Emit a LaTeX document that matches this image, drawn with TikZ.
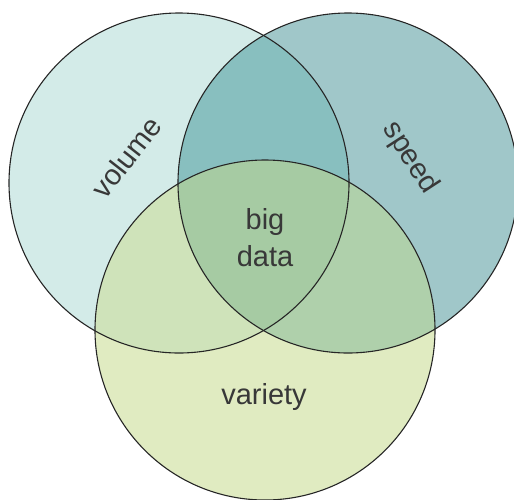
\documentclass[tikz,border=0pt]{standalone}
\usepackage{fontspec}
\setmainfont{Liberation Sans}
\usepackage{xcolor}
\usetikzlibrary{positioning}
\definecolor{volfill}{HTML}{D3EBE8}
\definecolor{spdfill}{HTML}{A0C7C9}
\definecolor{varfill}{HTML}{E0EBC1}
\definecolor{volspd}{HTML}{88BFBF}
\definecolor{volvar}{HTML}{CFE3BA}
\definecolor{spdvar}{HTML}{AFD0AB}
\definecolor{bigfill}{HTML}{A6CBA3}

\begin{document}
\begin{tikzpicture}[x=1pt, y=-1pt, font=\fontsize{29}{37}\selectfont]
    \tikzstyle{ring}=[draw=black!85, line width=1.1pt, fill=none]
    \tikzstyle{word}=[text=black!78, inner sep=0pt, align=center]

    \useasboundingbox (0,0) rectangle (514,499);

    \coordinate (vol) at (179,183);
    \coordinate (spd) at (348,183);
    \coordinate (var) at (265,330);

    %% base fills
    \fill[volfill] (vol) circle (170pt);
    \fill[spdfill] (spd) circle (170pt);
    \fill[varfill] (var) circle (170pt);

    %% overlaps
    \begin{scope}
        \clip (vol) circle (170pt);
        \fill[volspd] (spd) circle (170pt);
        \fill[volvar] (var) circle (170pt);
    \end{scope}
    \begin{scope}
        \clip (spd) circle (170pt);
        \fill[spdvar] (var) circle (170pt);
    \end{scope}
    \begin{scope}
        \clip (vol) circle (170pt);
        \clip (spd) circle (170pt);
        \fill[bigfill] (var) circle (170pt);
    \end{scope}

    %% outlines
    \draw[ring] (vol) circle (170pt);
    \draw[ring] (spd) circle (170pt);
    \draw[ring] (var) circle (170pt);

    \node[word, rotate=52] (volume) at (126,157) {volume};
    \node[word, rotate=-57] (speed) at (410,158) {speed};
    \node[word] (variety) at (264,397) {variety};
    \node[word] (bigdata) at (265,238) {big\\data};
\end{tikzpicture}
\end{document}
